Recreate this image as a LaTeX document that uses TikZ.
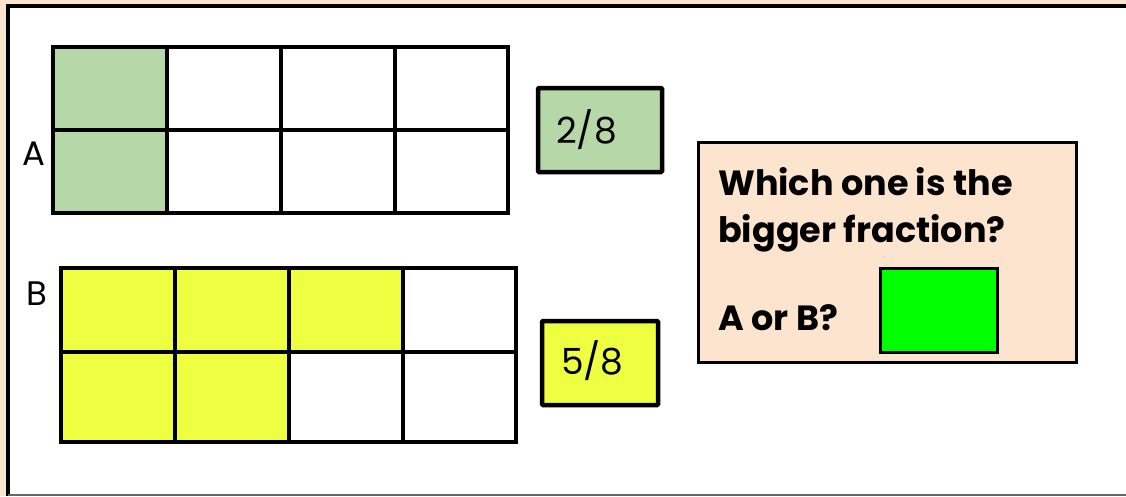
\documentclass[tikz,border=0pt]{standalone}
\usepackage{fontspec}
\setmainfont{Poppins}
\definecolor{peach}{HTML}{FCE4CF}
\definecolor{cellgreen}{HTML}{B6D7A8}
\definecolor{cellyellow}{HTML}{EEFF41}
\definecolor{brightgreen}{HTML}{00FF00}
\tikzset{
  gridline/.style={line width=4pt, line cap=rect},
  fracbox/.style={draw, line width=4.5pt, rounded corners=1pt},
  fractext/.style={anchor=base west, inner sep=0pt, font=\fontsize{36}{40}\selectfont},
  qtext/.style={anchor=base west, inner sep=0pt, font=\bfseries\fontsize{35}{40}\selectfont},
  rowlabel/.style={anchor=base west, inner sep=0pt, font=\fontsize{34}{40}\selectfont},
}
\begin{document}
\begin{tikzpicture}[x=1pt,y=-1pt]
\useasboundingbox (0,0) rectangle (1126,496);
\fill[peach] (0,0) rectangle (1126,496);
\fill[white] (8,6) rectangle (1126,495);
\draw[line width=4pt] (8,496) -- (8,6) -- (1127,6);
\draw[gray!80!black, line width=2pt] (8,495) -- (1126,495);
% Grid A
\fill[cellgreen] (53,47) rectangle (167,213);
\foreach \x in {53,167,281,395,508} \draw[gridline] (\x,47) -- (\x,213);
\foreach \y in {47,130,213} \draw[gridline] (53,\y) -- (508,\y);
% Grid B
\fill[cellyellow] (61,268) rectangle (403,352);
\fill[cellyellow] (61,352) rectangle (289,442);
\foreach \x in {61,175,289,403,516} \draw[gridline] (\x,268) -- (\x,442);
\foreach \y in {268,352,442} \draw[gridline] (61,\y) -- (516,\y);
% labels
\node[rowlabel] (la) at (22,165) {A};
\node[rowlabel] (lb) at (26,305) {B};
% fraction boxes
\draw[fracbox, fill=cellgreen] (538,88) rectangle (662,172);
\node[fractext] (fa) at (556,143) {2/8};
\draw[fracbox, fill=cellyellow] (542,321) rectangle (658,405);
\node[fractext] (fb) at (561,374) {5/8};
% question box
\draw[line width=3pt, fill=peach] (698,142) rectangle (1076,362);
\node[qtext] (q1) at (718,195) {Which one is the};
\node[qtext] (q2) at (718,242) {bigger fraction?};
\node[qtext] (q3) at (718,330) {A or B?};
\draw[line width=3pt, fill=brightgreen] (880,268) rectangle (997,352);
\end{tikzpicture}
\end{document}
